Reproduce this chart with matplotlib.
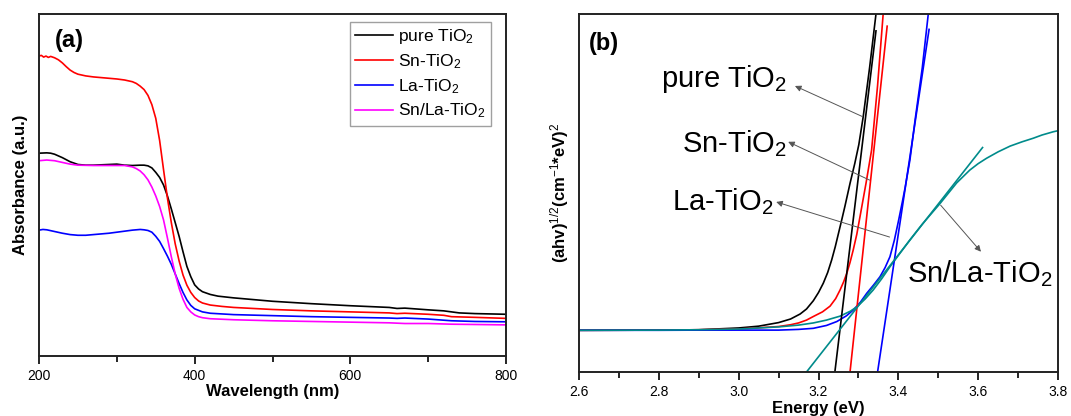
import matplotlib
matplotlib.use("Agg")
import matplotlib.pyplot as plt
from matplotlib.ticker import MultipleLocator, FormatStrFormatter

plt.rcParams['font.family'] = ['Liberation Sans', 'DejaVu Sans']
plt.rcParams['mathtext.fontset'] = 'custom'
plt.rcParams['mathtext.rm'] = 'Liberation Sans'
plt.rcParams['mathtext.it'] = 'Liberation Sans:italic'
plt.rcParams['mathtext.bf'] = 'Liberation Sans:bold'

# ---------------- Panel (a) data: UV-vis absorbance ----------------
wl_black = [200, 210, 215, 220, 230, 240, 250, 260, 270, 280, 290, 300, 310, 320, 330, 335, 340, 345, 350, 355, 360,
            365, 370, 375, 380, 385, 390, 395, 400, 405, 410, 420, 430, 450, 475, 500, 550, 600, 650, 660, 670, 700,
            720, 740, 760, 800]
abs_black = [0.593, 0.594, 0.593, 0.590, 0.580, 0.568, 0.560, 0.558, 0.558, 0.559, 0.560, 0.561, 0.558, 0.557, 0.558,
             0.558, 0.556, 0.550, 0.537, 0.522, 0.500, 0.468, 0.430, 0.390, 0.350, 0.305, 0.262, 0.232, 0.208, 0.196,
             0.188, 0.180, 0.175, 0.170, 0.165, 0.160, 0.153, 0.147, 0.142, 0.139, 0.140, 0.135, 0.132, 0.126, 0.124,
             0.122]

wl_red = [200, 203, 206, 209, 212, 215, 220, 225, 230, 235, 240, 245, 250, 260, 270, 280, 290, 300, 310, 320, 325, 330,
          335, 340, 345, 350, 355, 360, 365, 370, 375, 380, 385, 390, 395, 400, 405, 410, 420, 435, 450, 500, 550, 600,
          650, 660, 670, 700, 720, 730, 760, 800]
abs_red = [0.877, 0.879, 0.874, 0.877, 0.873, 0.876, 0.872, 0.866, 0.857, 0.846, 0.836, 0.829, 0.824, 0.819, 0.816,
           0.814, 0.812, 0.810, 0.807, 0.802, 0.797, 0.789, 0.779, 0.762, 0.735, 0.695, 0.630, 0.545, 0.462, 0.390,
           0.328, 0.278, 0.237, 0.207, 0.186, 0.171, 0.161, 0.155, 0.149, 0.145, 0.142, 0.136, 0.132, 0.129, 0.126,
           0.124, 0.125, 0.122, 0.119, 0.115, 0.113, 0.110]

wl_blue = [200, 205, 210, 220, 230, 240, 250, 260, 270, 280, 290, 300, 310, 320, 330, 335, 340, 345, 350, 355, 360, 365,
           370, 375, 380, 385, 390, 395, 400, 410, 420, 450, 500, 550, 600, 650, 660, 670, 700, 730, 760, 800]
abs_blue = [0.368, 0.370, 0.369, 0.364, 0.359, 0.355, 0.353, 0.353, 0.355, 0.357, 0.359, 0.362, 0.365, 0.368, 0.370,
            0.369, 0.367, 0.362, 0.350, 0.335, 0.314, 0.292, 0.268, 0.240, 0.212, 0.186, 0.164, 0.148, 0.138, 0.129,
            0.125, 0.121, 0.118, 0.115, 0.113, 0.111, 0.110, 0.111, 0.108, 0.103, 0.101, 0.100]

wl_mag = [200, 210, 220, 230, 240, 250, 270, 300, 310, 320, 325, 330, 335, 340, 345, 350, 355, 360, 365, 370, 375, 380,
          385, 390, 395, 400, 405, 410, 420, 450, 500, 550, 600, 650, 670, 700, 730, 800]
abs_mag = [0.571, 0.573, 0.571, 0.566, 0.561, 0.558, 0.557, 0.557, 0.557, 0.553, 0.548, 0.541, 0.530, 0.515, 0.494,
           0.468, 0.437, 0.398, 0.345, 0.290, 0.240, 0.198, 0.166, 0.142, 0.129, 0.120, 0.115, 0.112, 0.109, 0.106,
           0.103, 0.101, 0.099, 0.097, 0.095, 0.095, 0.093, 0.091]

labels_a = ['pure TiO$_2$', 'Sn-TiO$_2$', 'La-TiO$_2$', 'Sn/La-TiO$_2$']
colors_a = ['black', '#ff0000', '#0000ff', '#ff00ff']

# ---------------- Panel (b) data: Tauc plot ----------------
e_black = [2.6, 2.8, 2.9, 3.0, 3.05, 3.1, 3.13, 3.154, 3.17, 3.187, 3.20, 3.212, 3.223, 3.233, 3.242, 3.25, 3.258,
           3.266, 3.279, 3.291, 3.301, 3.312, 3.328, 3.344]
t_black = [0.1165, 0.117, 0.118, 0.123, 0.128, 0.138, 0.148, 0.162, 0.176, 0.199, 0.222, 0.248, 0.278, 0.313, 0.350,
           0.387, 0.424, 0.462, 0.527, 0.583, 0.635, 0.713, 0.850, 1.0]
e_red = [2.6, 2.8, 2.9, 3.0, 3.1, 3.13, 3.15, 3.17, 3.187, 3.21, 3.229, 3.243, 3.254, 3.263, 3.271, 3.279, 3.287, 3.296,
         3.304, 3.319, 3.333, 3.348, 3.362]
t_red = [0.1165, 0.117, 0.118, 0.120, 0.127, 0.132, 0.137, 0.145, 0.155, 0.168, 0.184, 0.205, 0.229, 0.252, 0.276,
         0.306, 0.341, 0.385, 0.434, 0.527, 0.620, 0.800, 1.0]
e_blue = [2.6, 2.8, 2.9, 3.0, 3.1, 3.15, 3.187, 3.22, 3.246, 3.27, 3.287, 3.305, 3.321, 3.338, 3.354, 3.367, 3.379,
          3.39, 3.40, 3.41, 3.417, 3.429, 3.442, 3.46, 3.475]
t_blue = [0.1165, 0.1165, 0.117, 0.117, 0.117, 0.119, 0.122, 0.130, 0.141, 0.157, 0.173, 0.195, 0.220, 0.243, 0.266,
          0.292, 0.322, 0.368, 0.420, 0.475, 0.515, 0.592, 0.704, 0.850, 1.0]
e_teal = [2.6, 2.8, 2.9, 3.0, 3.1, 3.15, 3.187, 3.22, 3.254, 3.28, 3.296, 3.317, 3.337, 3.358, 3.379, 3.405, 3.429,
          3.46, 3.504, 3.546, 3.579, 3.6, 3.621, 3.65, 3.68, 3.71, 3.738, 3.76, 3.788, 3.8]
t_teal = [0.1165, 0.117, 0.118, 0.120, 0.126, 0.131, 0.137, 0.145, 0.156, 0.170, 0.182, 0.204, 0.229, 0.260, 0.294,
          0.333, 0.369, 0.413, 0.470, 0.528, 0.564, 0.582, 0.597, 0.615, 0.631, 0.643, 0.653, 0.662, 0.671, 0.674]

# linear fits (endpoints)
fit_black_e = [3.241, 3.344]
fit_black_t = [0.0, 0.953]
fit_red_e = [3.279, 3.372]
fit_red_t = [0.0, 0.966]
fit_blue_e = [3.348, 3.477]
fit_blue_t = [0.0, 0.957]
fit_teal_e = [3.170, 3.611]
fit_teal_t = [0.0, 0.627]

colors_b = ['black', '#ff0000', '#0000ff', '#008b8b']

# annotation texts and arrows (text pos, arrow tail on curve, arrow head near text)
ann_text = ['pure TiO$_2$', 'Sn-TiO$_2$', 'La-TiO$_2$', 'Sn/La-TiO$_2$']
ann_text_xy = [(2.806, 0.795), (2.857, 0.615), (2.832, 0.452), (3.421, 0.252)]
ann_tail = [(3.311, 0.713), (3.328, 0.536), (3.378, 0.377), (3.506, 0.466)]
ann_head = [(3.141, 0.799), (3.124, 0.643), (3.094, 0.475), (3.607, 0.336)]

fig = plt.figure(figsize=(10.71, 4.16), dpi=100)

# ---- Panel (a)
axa = fig.add_axes([39 / 1071, 60 / 416, 467 / 1071, 342 / 416])
for x, y, lab, c in zip([wl_black, wl_red, wl_blue, wl_mag], [abs_black, abs_red, abs_blue, abs_mag],
                        labels_a, colors_a):
    axa.plot(x, y, color=c, lw=1.2, label=lab)
axa.set_xlim(200, 800)
axa.set_ylim(0, 1)
axa.xaxis.set_major_locator(MultipleLocator(200))
axa.xaxis.set_minor_locator(MultipleLocator(100))
axa.set_yticks([])
axa.tick_params(axis='x', which='major', direction='out', length=6, width=1.2, labelsize=10, pad=3)
axa.tick_params(axis='x', which='minor', direction='out', length=4, width=1.2)
for s in axa.spines.values():
    s.set_linewidth(1.4)
    s.set_color('#222222')
axa.set_xlabel('Wavelength (nm)', fontsize=12, fontweight='bold', labelpad=1)
axa.set_ylabel('Absorbance (a.u.)', fontsize=12, fontweight='bold', labelpad=8)
axa.text(0.035, 0.955, '(a)', transform=axa.transAxes, fontsize=17, fontweight='bold', va='top', ha='left')
leg = axa.legend(loc='upper right', bbox_to_anchor=(0.968, 0.977), borderaxespad=0, fontsize=12.5,
                 frameon=True, fancybox=False, edgecolor='#888888', handlelength=2.2, handletextpad=0.3,
                 labelspacing=0.35, borderpad=0.3)
leg.get_frame().set_linewidth(1.0)

# ---- Panel (b)
axb = fig.add_axes([579 / 1071, 44 / 416, 479 / 1071, 358 / 416])
for x, y, c in zip([e_black, e_red, e_blue, e_teal], [t_black, t_red, t_blue, t_teal], colors_b):
    axb.plot(x, y, color=c, lw=1.2)
for x, y, c in zip([fit_black_e, fit_red_e, fit_blue_e, fit_teal_e], [fit_black_t, fit_red_t, fit_blue_t, fit_teal_t],
                   colors_b):
    axb.plot(x, y, color=c, lw=1.2)
axb.set_xlim(2.6, 3.8)
axb.set_ylim(0, 1)
axb.xaxis.set_major_locator(MultipleLocator(0.2))
axb.xaxis.set_minor_locator(MultipleLocator(0.1))
axb.xaxis.set_major_formatter(FormatStrFormatter('%.1f'))
axb.set_yticks([])
axb.tick_params(axis='x', which='major', direction='out', length=6, width=1.2, labelsize=10, pad=3)
axb.tick_params(axis='x', which='minor', direction='out', length=4, width=1.2)
for s in axb.spines.values():
    s.set_linewidth(1.4)
    s.set_color('#222222')
axb.set_xlabel('Energy (eV)', fontsize=12, fontweight='bold', labelpad=2)
axb.set_ylabel('(ahv)$^{1/2}$(cm$^{-1}$*eV)$^2$', fontsize=12, fontweight='bold', labelpad=6)
axb.text(0.02, 0.95, '(b)', transform=axb.transAxes, fontsize=17, fontweight='bold', va='top', ha='left')
for t, txy, tail, head in zip(ann_text, ann_text_xy, ann_tail, ann_head):
    axb.text(txy[0], txy[1], t, fontsize=21, ha='left', va='baseline')
    axb.annotate('', xy=head, xytext=tail,
                 arrowprops=dict(arrowstyle='-|>', color='#555555', lw=0.7, mutation_scale=9,
                                 shrinkA=0, shrinkB=0))

fig.savefig('out.png', dpi=100)
